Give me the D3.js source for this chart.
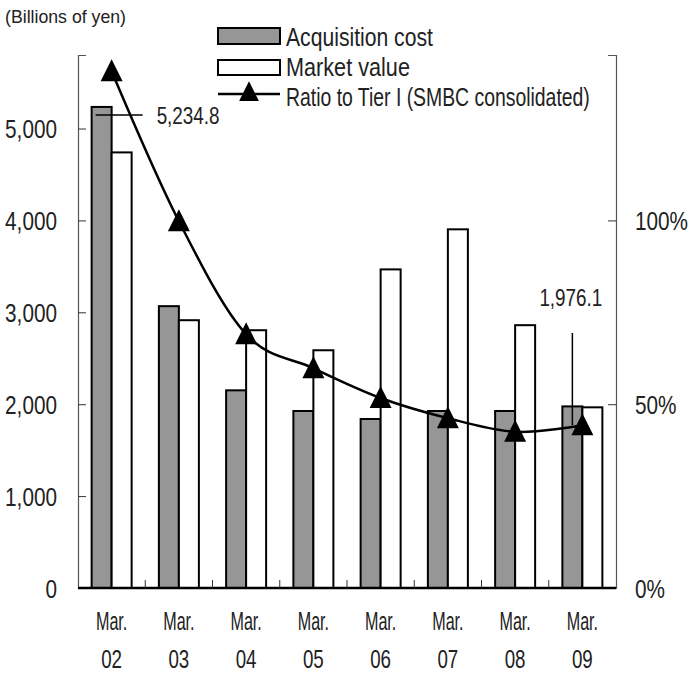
<!DOCTYPE html>
<meta charset="utf-8">
<head>
<style type="text/css">
  body { margin: 0; background: #fff; }
  svg text {
    font-family: "Liberation Sans Narrow", "Arial Narrow", "Liberation Sans", sans-serif;
    fill: #222;
  }
</style>
</head>
<script src="https://cdn.jsdelivr.net/npm/d3@7"></script>
<body>
<div id="vis"></div>
<script>
// data
var months = ["Mar.", "Mar.", "Mar.", "Mar.", "Mar.", "Mar.", "Mar.", "Mar."];
var years = ["02", "03", "04", "05", "06", "07", "08", "09"];
var acquisitionCost = [5234.8, 3067, 2151, 1926, 1839, 1926, 1926, 1976.1];
var marketValue = [4740, 2914, 2805, 2587, 3467, 3903, 2860, 1966];
var ratioTier1 = [140.6, 99.8, 69.0, 59.8, 51.7, 46.2, 42.5, 44.3];
var leftTicks = [0, 1000, 2000, 3000, 4000, 5000];
var rightTicks = [0, 50, 100];
var legendLabels = ["Acquisition cost", "Market value", "Ratio to Tier I (SMBC consolidated)"];

var width = 691,
    height = 675;
var svg = d3.select("#vis").append("svg")
    .attr("width", width)
    .attr("height", height);

// no narrow font installed: squeeze the text sideways so it looks condensed
function condense(sel, f) {
  sel.each(function() {
    var t = d3.select(this);
    var tx = +t.attr("x") || 0, ty = +t.attr("y") || 0;
    var k = typeof f === "function" ? f(this) : f;
    t.attr("x", 0).attr("y", 0)
     .attr("transform", "translate(" + tx + "," + ty + ") scale(" + k + ",1)");
  });
}
function toWidth(w) {
  return function(node) { return w / node.getComputedTextLength(); };
}

var plot = {left: 78, right: 616, top: 55, bottom: 588};

var x = d3.scaleBand()
    .domain(years)
    .range([plot.left, plot.right]);
var yL = d3.scaleLinear().domain([0, 5800]).range([plot.bottom, plot.top]);
var yR = d3.scaleLinear().domain([0, 145]).range([plot.bottom, plot.top]);
var barW = 20;
function cx(i) { return x(years[i]) + x.bandwidth() / 2; }

// left axis
var leftAxis = svg.append("g")
    .attr("transform", "translate(" + plot.left + ",0)")
    .call(d3.axisLeft(yL).tickValues(leftTicks).tickFormat(d3.format(",")).tickSize(-8).tickPadding(21));
// right axis
var rightAxis = svg.append("g")
    .attr("transform", "translate(" + plot.right + ",0)")
    .call(d3.axisRight(yR).tickValues(rightTicks).tickFormat(function(d) { return d + "%"; }).tickSize(-8).tickPadding(19));

[leftAxis, rightAxis].forEach(function(a) {
  a.select(".domain").attr("stroke", "#555").attr("stroke-width", 1.2);
  a.selectAll(".tick line").attr("stroke", "#333");
  a.selectAll("text").attr("font-size", 25).attr("fill", "#222")
    .attr("font-family", null).attr("dy", "0.36em");
  condense(a.selectAll("text"), 0.83);
});

// bars
var idx = d3.range(years.length);
svg.append("g").selectAll("rect.acq").data(idx).enter().append("rect")
    .attr("class", "acq")
    .attr("x", function(i) { return cx(i) - barW; })
    .attr("y", function(i) { return yL(acquisitionCost[i]); })
    .attr("width", barW)
    .attr("height", function(i) { return yL(0) - yL(acquisitionCost[i]); })
    .attr("fill", "#969696")
    .attr("stroke", "#000")
    .attr("stroke-width", 2);
svg.append("g").selectAll("rect.mkt").data(idx).enter().append("rect")
    .attr("class", "mkt")
    .attr("x", function(i) { return cx(i); })
    .attr("y", function(i) { return yL(marketValue[i]); })
    .attr("width", barW)
    .attr("height", function(i) { return yL(0) - yL(marketValue[i]); })
    .attr("fill", "#fff")
    .attr("stroke", "#000")
    .attr("stroke-width", 2);

// bottom axis (thick) with ticks at category borders
svg.append("line")
    .attr("x1", plot.left).attr("x2", plot.right)
    .attr("y1", plot.bottom).attr("y2", plot.bottom)
    .attr("stroke", "#000").attr("stroke-width", 2.5);
svg.append("g").selectAll("line").data(years.slice(1)).enter().append("line")
    .attr("x1", function(d) { return x(d); })
    .attr("x2", function(d) { return x(d); })
    .attr("y1", plot.bottom).attr("y2", plot.bottom - 8)
    .attr("stroke", "#333");

var monthText = svg.append("g").selectAll("text").data(idx).enter().append("text")
    .attr("text-anchor", "middle")
    .attr("font-size", 26)
    .attr("x", cx)
    .attr("y", 630)
    .text(function(i) { return months[i]; });
condense(monthText, 0.62);
var yearText = svg.append("g").selectAll("text").data(idx).enter().append("text")
    .attr("text-anchor", "middle")
    .attr("font-size", 25)
    .attr("x", cx)
    .attr("y", 668)
    .text(function(i) { return years[i]; });
condense(yearText, 0.75);

// ratio line
var line = d3.line()
    .x(cx)
    .y(function(i) { return yR(ratioTier1[i]); })
    .curve(d3.curveCatmullRom.alpha(0));
svg.append("path").datum(idx)
    .attr("d", line)
    .attr("fill", "none")
    .attr("stroke", "#000")
    .attr("stroke-width", 2.5);

var tri = "M0,-12L11,10L-11,10Z";
svg.append("g").selectAll("path").data(idx).enter().append("path")
    .attr("d", tri)
    .attr("transform", function(i) {
      return "translate(" + cx(i) + "," + yR(ratioTier1[i]) + ")";
    })
    .attr("fill", "#000");

// callouts
var first = cx(0) - barW / 2;
svg.append("line")
    .attr("x1", first - 6).attr("x2", first + 41)
    .attr("y1", yL(acquisitionCost[0]) + 8).attr("y2", yL(acquisitionCost[0]) + 8)
    .attr("stroke", "#000").attr("stroke-width", 1.5);
svg.append("text")
    .attr("x", first + 55).attr("y", yL(acquisitionCost[0]) + 17)
    .attr("font-size", 24)
    .text(d3.format(",.1f")(acquisitionCost[0]))
    .call(condense, toWidth(63));

var last = cx(7) - barW / 2;
svg.append("line")
    .attr("x1", last).attr("x2", last)
    .attr("y1", 333).attr("y2", yR(ratioTier1[7]))
    .attr("stroke", "#000").attr("stroke-width", 1.5);
svg.append("text")
    .attr("x", last - 33).attr("y", 306)
    .attr("font-size", 24)
    .text(d3.format(",.1f")(acquisitionCost[7]))
    .call(condense, toWidth(63));

// unit label
svg.append("text")
    .attr("x", 5).attr("y", 23)
    .attr("font-size", 19)
    .text("(Billions of yen)")
    .call(condense, toWidth(121));

// legend
var lg = svg.append("g").attr("transform", "translate(218,0)");
lg.append("rect").attr("x", 0).attr("y", 28).attr("width", 62).attr("height", 16)
    .attr("fill", "#969696").attr("stroke", "#000").attr("stroke-width", 2);
lg.append("rect").attr("x", 0).attr("y", 60).attr("width", 62).attr("height", 15)
    .attr("fill", "#fff").attr("stroke", "#000").attr("stroke-width", 2);
lg.append("line").attr("x1", 0).attr("x2", 62).attr("y1", 94).attr("y2", 94)
    .attr("stroke", "#000").attr("stroke-width", 2.5);
lg.append("path").attr("d", tri).attr("transform", "translate(31,92) scale(0.9)").attr("fill", "#000");
var legendWidths = [147, 124, 304];
lg.selectAll("text.lg").data(legendLabels).enter().append("text")
    .attr("class", "lg")
    .attr("x", 68)
    .attr("y", function(d, i) { return 46 + i * 30; })
    .attr("font-size", 25)
    .text(function(d) { return d; })
    .each(function(d, i) {
      condense(d3.select(this), toWidth(legendWidths[i]));
    });
</script>
</body>
